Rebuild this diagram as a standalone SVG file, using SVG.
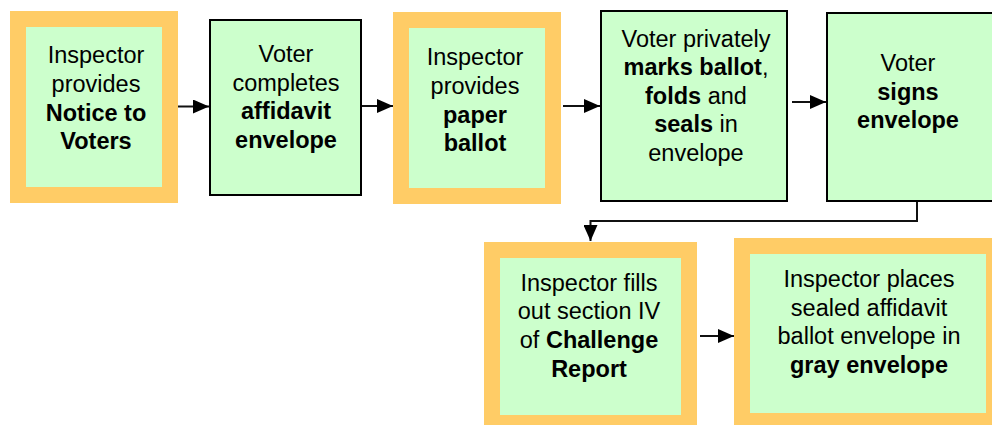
<svg xmlns="http://www.w3.org/2000/svg" width="992" height="425" viewBox="0 0 992 425">
  <style>
    .frame { fill: #FFCC66; }
    .fill { fill: #CCFFCC; }
    .boxed { fill: #CCFFCC; stroke: #000; stroke-width: 2; }
    text { font-family: "Liberation Sans", Arial, sans-serif; font-size: 23.5px; fill: #000; text-anchor: middle; }
    .b { font-weight: bold; }
    .conn { fill: none; stroke: #111; stroke-width: 2; }
  </style>
  <defs>
    <marker id="head" viewBox="0 0 16 14" refX="16" refY="7" markerWidth="16" markerHeight="14" markerUnits="userSpaceOnUse" orient="auto">
      <path d="M0,0 L16,7 L0,14 Z" fill="#000"/>
    </marker>
  </defs>
  <rect width="992" height="425" fill="#fff"/>

  <g id="n1">
    <rect class="frame" x="10" y="11" width="168" height="192"/>
    <rect class="fill" x="26" y="27" width="136" height="160"/>
    <text x="96" y="63">Inspector</text>
    <text x="96" y="92">provides</text>
    <text x="96" y="121" class="b">Notice to</text>
    <text x="96" y="149" class="b">Voters</text>
  </g>

  <g id="n2">
    <rect class="boxed" x="210" y="20" width="151" height="175"/>
    <text x="286" y="62">Voter</text>
    <text x="286" y="91">completes</text>
    <text x="286" y="119" class="b">affidavit</text>
    <text x="286" y="148" class="b">envelope</text>
  </g>

  <g id="n3">
    <rect class="frame" x="393" y="12" width="168" height="192"/>
    <rect class="fill" x="409" y="28" width="136" height="160"/>
    <text x="475" y="65">Inspector</text>
    <text x="475" y="94">provides</text>
    <text x="475" y="123" class="b">paper</text>
    <text x="475" y="151" class="b">ballot</text>
  </g>

  <g id="n4">
    <rect class="boxed" x="601" y="11" width="186" height="190"/>
    <text x="696" y="47">Voter privately</text>
    <text x="696" y="75"><tspan class="b">marks ballot</tspan>,</text>
    <text x="696" y="104"><tspan class="b">folds</tspan> and</text>
    <text x="696" y="132"><tspan class="b">seals</tspan> in</text>
    <text x="696" y="161">envelope</text>
  </g>

  <g id="n5">
    <rect class="boxed" x="827" y="13" width="200" height="188"/>
    <text x="908" y="71">Voter</text>
    <text x="908" y="100" class="b">signs</text>
    <text x="908" y="128" class="b">envelope</text>
  </g>

  <g id="n6">
    <rect class="frame" x="484" y="242" width="213" height="190"/>
    <rect class="fill" x="500" y="258" width="181" height="157"/>
    <text x="589" y="291">Inspector fills</text>
    <text x="589" y="319">out section IV</text>
    <text x="589" y="348">of <tspan class="b">Challenge</tspan></text>
    <text x="589" y="377" class="b">Report</text>
  </g>

  <g id="n7">
    <rect class="frame" x="734" y="238" width="270" height="194"/>
    <rect class="fill" x="750" y="254" width="236" height="159"/>
    <text x="869" y="287">Inspector places</text>
    <text x="869" y="316">sealed affidavit</text>
    <text x="869" y="344">ballot envelope in</text>
    <text x="869" y="373" class="b">gray envelope</text>
  </g>

  <g id="connectors">
    <line class="conn" x1="178" y1="106.5" x2="209" y2="106.5" marker-end="url(#head)"/>
    <line class="conn" x1="362" y1="106" x2="393" y2="106" marker-end="url(#head)"/>
    <line class="conn" x1="563" y1="106" x2="600" y2="106" marker-end="url(#head)"/>
    <line class="conn" x1="792" y1="102" x2="826" y2="102" marker-end="url(#head)"/>
    <polyline class="conn" points="917,202 917,221 590.5,221 590.5,241" marker-end="url(#head)"/>
    <line class="conn" x1="700" y1="336" x2="734" y2="336" marker-end="url(#head)"/>
  </g>
</svg>
